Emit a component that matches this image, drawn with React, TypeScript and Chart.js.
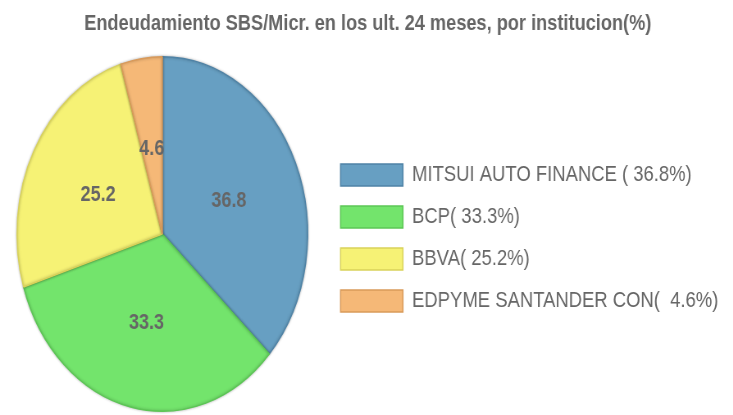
import React, { useEffect, useRef } from 'react';
import { Chart, registerables } from 'chart.js';

Chart.register(...registerables);

const TITLE = 'Endeudamiento SBS/Micr. en los ult. 24 meses, por institucion(%)';
const categories = ['MITSUI AUTO FINANCE ', 'BCP', 'BBVA', 'EDPYME SANTANDER CON'];
const values = [36.8, 33.3, 25.2, 4.6];
const fillColors = ['#679fc2', '#73e46c', '#f6f275', '#f5b877'];
const borderColors = ['#4f83a6', '#5cc655', '#d9d25a', '#d99a5a'];

const legendLabels = categories.map((c, i) => `${c}(${values[i].toFixed(1).padStart(5, ' ')}%)`);

const SX = 0.82;
const W = 894;
const H = 415;
const FAMILY = '"Liberation Sans", Arial, Helvetica, sans-serif';

export default function App() {
  const ref = useRef<HTMLCanvasElement>(null);

  useEffect(() => {
    document.body.style.margin = '0';
    const canvas = ref.current!;
    const sliceLabels = {
      id: 'sliceLabels',
      afterLayout(chart: any) {
        const t = chart.titleBlock;
        if (t) {
          t.left += 5.5;
          t.right += 5.5;
        }
      },
      beforeDatasetsDraw(chart: any) {
        const ctx = chart.ctx;
        ctx.save();
        ctx.shadowColor = 'rgba(0,0,0,0.28)';
        ctx.shadowBlur = 3;
      },
      afterDatasetsDraw(chart: any) {
        const ctx = chart.ctx;
        ctx.restore();
        const meta = chart.getDatasetMeta(0);
        ctx.save();
        ctx.font = `bold 22px ${FAMILY}`;
        ctx.fillStyle = '#666';
        ctx.textAlign = 'center';
        ctx.textBaseline = 'middle';
        meta.data.forEach((arc: any, i: number) => {
          const p = arc.tooltipPosition(false);
          ctx.fillText(String(values[i]), p.x, p.y + 2.5);
        });
        ctx.restore();
      },
    };

    const chart = new Chart(canvas, {
      type: 'pie',
      data: {
        labels: legendLabels,
        datasets: [
          {
            data: values,
            backgroundColor: fillColors,
            borderColor: borderColors,
            borderWidth: 1.5,
          },
        ],
      },
      options: {
        responsive: false,
        animation: false,
        devicePixelRatio: 1,
        events: [],
        layout: { padding: { left: 0, right: 8, top: 0, bottom: 3 } },
        plugins: {
          title: {
            display: true,
            text: TITLE,
            color: '#666',
            font: { family: FAMILY, size: 22.2, weight: 'bold' },
            padding: { top: 11, bottom: 18.4 },
          },
          legend: {
            position: 'right',
            fullSize: false,
            maxWidth: 1000,
            title: { display: true, text: '', font: { size: 8, lineHeight: 1 }, padding: 0 },
            labels: {
              boxWidth: 76,
              boxHeight: 22,
              padding: 19.5,
              color: '#666',
              font: { family: FAMILY, size: 22.5 },
            },
          },
          tooltip: { enabled: false },
        },
      } as any,
      plugins: [sliceLabels],
    });
    return () => chart.destroy();
  }, []);

  return (
    <div style={{ width: 733, height: 415, overflow: 'hidden', background: '#fff' }}>
      <div style={{ width: W, height: H, transform: `scaleX(${SX})`, transformOrigin: '0 0' }}>
        <canvas ref={ref} width={W} height={H} style={{ display: 'block', width: W, height: H }} />
      </div>
    </div>
  );
}
